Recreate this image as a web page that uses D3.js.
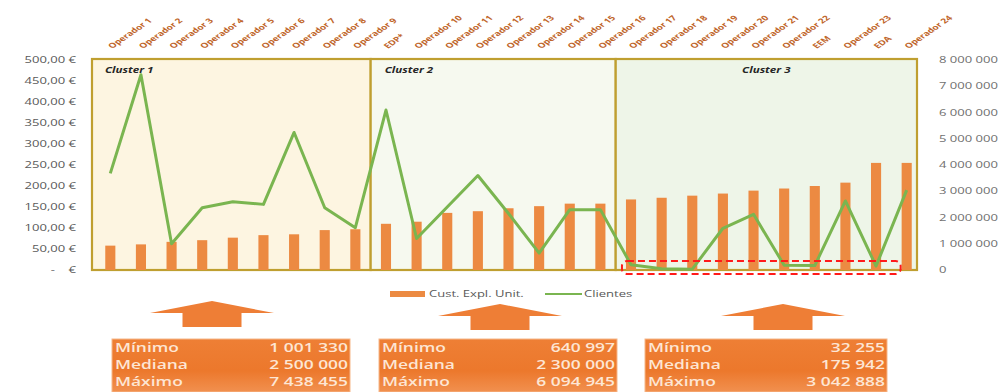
<!DOCTYPE html>
<html><head><meta charset="utf-8">
<script src="https://cdn.jsdelivr.net/npm/d3@7"></script>
<style>
html,body{margin:0;padding:0;background:#fff;}
svg{display:block;}
text{font-family:"Open Sans",sans-serif;}
</style></head>
<body>
<svg id="chart" width="1001" height="392"></svg>
<script>
// ---------- DATA ----------
const categories = ["Operador 1","Operador 2","Operador 3","Operador 4","Operador 5","Operador 6","Operador 7","Operador 8","Operador 9","EDP*",
  "Operador 10","Operador 11","Operador 12","Operador 13","Operador 14","Operador 15","Operador 16","Operador 17","Operador 18","Operador 19",
  "Operador 20","Operador 21","Operador 22","EEM","Operador 23","EDA","Operador 24"];
const custoUnit = [58,61,67,71,77,83,85,95,97, 110,115,136,140,147,152,158,158, 168,172,177,182,189,194,200,208,255,255];
const clientes = [3680000,7438455,1001330,2370000,2600000,2500000,5240000,2370000,1610000,
  6094945,1200000,2400000,3600000,2150000,640997,2300000,2300000,
  200000,50000,32255,1590000,2120000,182000,170000,2630000,150000,3042888];
const clusterNames = ["Cluster 1","Cluster 2","Cluster 3"];
const clusterStart = [0,9,17];
const clusterEnd = [8,16,26];
const statLabels = ["Mínimo","Mediana","Máximo"];
const statC1 = [1001330,2500000,7438455];
const statC2 = [640997,2300000,6094945];
const statC3 = [32255,175942,3042888];
const leftTicks = [0,50,100,150,200,250,300,350,400,450,500];
const leftTickLabels = ["-    €","50,00 €","100,00 €","150,00 €","200,00 €","250,00 €","300,00 €","350,00 €","400,00 €","450,00 €","500,00 €"];
const rightTicks = [0,1000000,2000000,3000000,4000000,5000000,6000000,7000000,8000000];
const rightTickLabels = ["0","1 000 000","2 000 000","3 000 000","4 000 000","5 000 000","6 000 000","7 000 000","8 000 000"];
const seriesNames = ["Cust. Expl. Unit.","Clientes"];

// ---------- SETUP ----------
const S = 1.45; // horizontal text stretch
const svg = d3.select("#chart");
const yTop = 60, yBot = 270;
const x = d3.scaleBand().domain(categories).range([95,922]).paddingInner(0.67).paddingOuter(0.335);
const step = x.step(), bw = x.bandwidth();
const cx = c => x(c) + bw/2;
const yL = d3.scaleLinear().domain([0,500]).range([yBot,yTop]);
const yR = d3.scaleLinear().domain([0,8000000]).range([yBot,yTop]);
const fmt = d3.formatLocale({thousands:"\u00a0",grouping:[3],decimal:",",currency:["","€"]}).format(",d");

function stext(g, tx, ty, txt, anchor){
  return g.append("text").attr("transform",`translate(${tx},${ty}) scale(${S},1)`)
    .attr("text-anchor",anchor||"start").text(txt);
}

const defs = svg.append("defs");
const grad = defs.append("linearGradient").attr("id","boxg").attr("x1",0).attr("y1",0).attr("x2",0).attr("y2",1);
grad.append("stop").attr("offset","0%").attr("stop-color","#ee7f35");
grad.append("stop").attr("offset","60%").attr("stop-color","#ec782c");
grad.append("stop").attr("offset","100%").attr("stop-color","#f1904f");

// ---------- CLUSTER BOXES ----------
const clusterFill = ["#fdf5e1","#f6f9ef","#eef5e8"];
const bLeft = i => i===0 ? x.range()[0]-3 : x(categories[clusterStart[i]]) - (step-bw)/2;
const bRight = i => i===2 ? x.range()[1]-5 : x(categories[clusterEnd[i]]) + bw + (step-bw)/2;
clusterNames.forEach((n,i)=>{
  svg.append("rect").attr("x",bLeft(i)).attr("y",yTop-1).attr("width",bRight(i)-bLeft(i)).attr("height",yBot-yTop+1)
    .attr("fill",clusterFill[i]).attr("stroke","#bf9f30").attr("stroke-width",2.2);
});
const cl = svg.append("g").attr("font-size",8).attr("font-weight",700).attr("font-style","italic").attr("fill","#262626");
stext(cl, bLeft(0)+13, yTop+13, clusterNames[0]);
stext(cl, bLeft(1)+14, yTop+13, clusterNames[1]);
stext(cl, (bLeft(2)+bRight(2))/2, yTop+13, clusterNames[2], "middle");

// ---------- BARS ----------
svg.append("g").selectAll("rect").data(categories).join("rect")
  .attr("x",d=>x(d)).attr("width",bw)
  .attr("y",(d,i)=>yL(custoUnit[i])).attr("height",(d,i)=>yBot-yL(custoUnit[i]))
  .attr("fill","#ec8a42");

// ---------- LINE ----------
const line = d3.line().x((d,i)=>cx(categories[i])).y(d=>yR(d));
svg.append("path").datum(clientes).attr("d",line).attr("fill","none")
  .attr("stroke","#7ab550").attr("stroke-width",3).attr("stroke-linejoin","round");

// ---------- RED DASHED HIGHLIGHT ----------
const rx0 = x(categories[17]) - 4, rx1 = x(categories[26]) - 1;
svg.append("rect").attr("x",rx0).attr("y",yR(0)-9).attr("width",rx1-rx0).attr("height",13)
  .attr("rx",5).attr("fill","none").attr("stroke","#ff1a1a").attr("stroke-width",2).attr("stroke-dasharray","7,4");

// ---------- AXES ----------
const la = svg.append("g").attr("font-size",9).attr("fill","#595959");
leftTicks.forEach((v,i)=>{
  stext(la, 76, yL(v)+3, leftTickLabels[i], "end").style("white-space","pre");
});
const ra = svg.append("g").attr("font-size",9).attr("fill","#6f6f6f");
rightTicks.forEach((v,i)=>{
  stext(ra, 939, yR(v)+3, rightTickLabels[i], "start");
});
const ta = svg.append("g").attr("font-size",7).attr("font-weight",700).attr("fill","#c0652a");
categories.forEach(c=>{
  ta.append("text").attr("transform",`translate(${cx(c)+2},${yTop-11}) scale(${S},1) rotate(-45)`).text(c);
});

// ---------- LEGEND ----------
const lg = svg.append("g").attr("font-size",9).attr("fill","#595959");
svg.append("rect").attr("x",390).attr("y",291).attr("width",35).attr("height",6).attr("fill","#ec8a42");
stext(lg, 429, 297, seriesNames[0]);
svg.append("line").attr("x1",545).attr("x2",582).attr("y1",294).attr("y2",294).attr("stroke","#7ab550").attr("stroke-width",2);
stext(lg, 584, 297, seriesNames[1]);

// ---------- ARROWS + STAT BOXES ----------
const arrows = [{c:212,t:301,b:313,e:327},{c:500,t:304,b:316,e:330},{c:783,t:304,b:316,e:330}];
arrows.forEach(a=>{
  const hw=62, sw=29.5;
  svg.append("path").attr("d",`M${a.c},${a.t} L${a.c+hw},${a.b} L${a.c+sw},${a.b} L${a.c+sw},${a.e} L${a.c-sw},${a.e} L${a.c-sw},${a.b} L${a.c-hw},${a.b} Z`)
    .attr("fill","#ee7e36");
});
const boxes = [{l:112,r:350,v:statC1},{l:379,r:617,v:statC2},{l:645,r:887,v:statC3}];
boxes.forEach(b=>{
  svg.append("rect").attr("x",b.l).attr("y",339).attr("width",b.r-b.l).attr("height",53)
    .attr("fill","url(#boxg)").attr("stroke","#f6b78a").attr("stroke-width",1);
  const g = svg.append("g").attr("font-size",12).attr("font-weight",600).attr("fill","#fde6d4");
  statLabels.forEach((s,i)=>{
    stext(g, b.l+3, 352+i*17, s, "start");
    stext(g, b.r-2, 352+i*17, fmt(b.v[i]), "end");
  });
});
</script>
</body></html>
